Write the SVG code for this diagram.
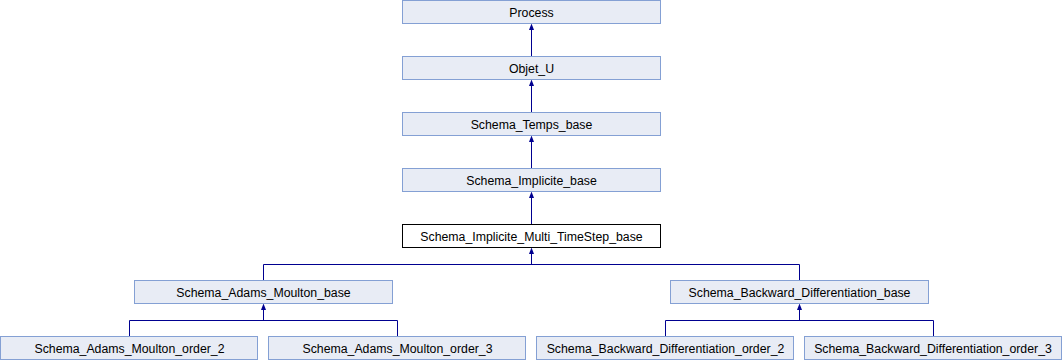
<svg xmlns="http://www.w3.org/2000/svg" width="1062" height="360" viewBox="0 0 1062 360">
  <style>
    .box { fill: #e8ecf5; stroke: #84a0d4; stroke-width: 1; }
    .cur { fill: #ffffff; stroke: #000000; stroke-width: 1; }
    .lbl { font-family: "Liberation Sans", Arial, sans-serif; font-size: 12.3px; fill: #000000; text-anchor: middle; }
    .edge { fill: none; stroke: #000090; stroke-width: 1; }
    .head { fill: #000090; stroke: none; }
  </style>
  <rect width="1062" height="360" fill="#ffffff"/>

  <!-- inheritance connectors -->
  <g id="connectors">
    <path class="edge" d="M531.5 29 V56.5"/>
    <path class="head" d="M531.5 23.5 L534 30 L529 30 Z"/>
    <path class="edge" d="M531.5 85 V112.5"/>
    <path class="head" d="M531.5 79.5 L534 86 L529 86 Z"/>
    <path class="edge" d="M531.5 141 V168.5"/>
    <path class="head" d="M531.5 135.5 L534 142 L529 142 Z"/>
    <path class="edge" d="M531.5 197 V224.5"/>
    <path class="head" d="M531.5 191.5 L534 198 L529 198 Z"/>
    <path class="edge" d="M531.5 253 V264.5 M263.5 280.5 V264.5 H799.5 V280.5"/>
    <path class="head" d="M531.5 247.5 L534 254 L529 254 Z"/>
    <path class="edge" d="M263.5 309 V320.5 M129.5 336.5 V320.5 H397.5 V336.5"/>
    <path class="head" d="M263.5 303.5 L266 310 L261 310 Z"/>
    <path class="edge" d="M799.5 309 V320.5 M665.5 336.5 V320.5 H933.5 V336.5"/>
    <path class="head" d="M799.5 303.5 L802 310 L797 310 Z"/>
  </g>

  <g id="process">
    <rect class="box" x="402.5" y="0.5" width="258" height="23"/>
    <text class="lbl" x="531.5" y="16.5">Process</text>
  </g>
  <g id="objet_u">
    <rect class="box" x="402.5" y="56.5" width="258" height="23"/>
    <text class="lbl" x="531.5" y="72.5">Objet_U</text>
  </g>
  <g id="schema_temps_base">
    <rect class="box" x="402.5" y="112.5" width="258" height="23"/>
    <text class="lbl" x="531.5" y="128.5">Schema_Temps_base</text>
  </g>
  <g id="schema_implicite_base">
    <rect class="box" x="402.5" y="168.5" width="258" height="23"/>
    <text class="lbl" x="531.5" y="184.5">Schema_Implicite_base</text>
  </g>
  <g id="schema_implicite_multi_timestep_base">
    <rect class="cur" x="402.5" y="224.5" width="258" height="23"/>
    <text class="lbl" x="531.5" y="240.5">Schema_Implicite_Multi_TimeStep_base</text>
  </g>
  <g id="schema_adams_moulton_base">
    <rect class="box" x="134.5" y="280.5" width="258" height="23"/>
    <text class="lbl" x="263.5" y="296.5">Schema_Adams_Moulton_base</text>
  </g>
  <g id="schema_backward_differentiation_base">
    <rect class="box" x="670.5" y="280.5" width="258" height="23"/>
    <text class="lbl" x="799.5" y="296.5">Schema_Backward_Differentiation_base</text>
  </g>
  <g id="schema_adams_moulton_order_2">
    <rect class="box" x="0.5" y="336.5" width="257" height="23"/>
    <text class="lbl" x="129.5" y="352.5">Schema_Adams_Moulton_order_2</text>
  </g>
  <g id="schema_adams_moulton_order_3">
    <rect class="box" x="268.5" y="336.5" width="257" height="23"/>
    <text class="lbl" x="397.5" y="352.5">Schema_Adams_Moulton_order_3</text>
  </g>
  <g id="schema_backward_differentiation_order_2">
    <rect class="box" x="536.5" y="336.5" width="257" height="23"/>
    <text class="lbl" x="665.5" y="352.5">Schema_Backward_Differentiation_order_2</text>
  </g>
  <g id="schema_backward_differentiation_order_3">
    <rect class="box" x="804.5" y="336.5" width="257" height="23"/>
    <text class="lbl" x="933" y="352.5">Schema_Backward_Differentiation_order_3</text>
  </g>
</svg>
